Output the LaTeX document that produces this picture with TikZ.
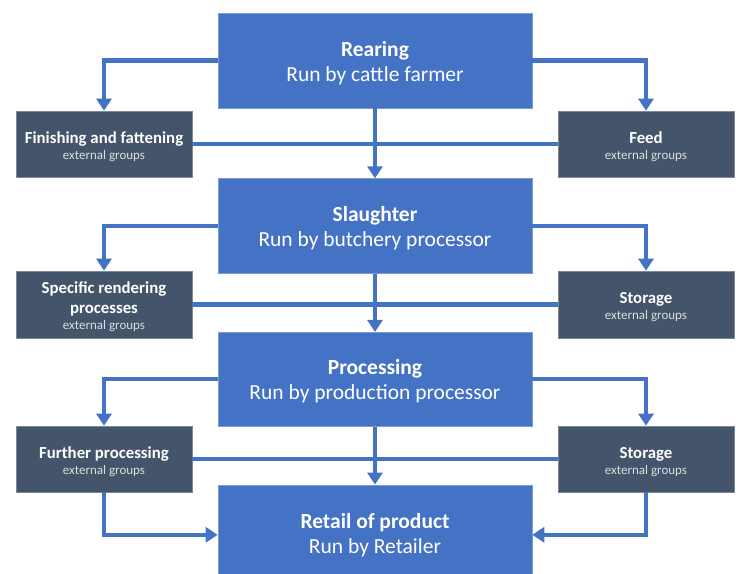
\documentclass[tikz,border=0pt]{standalone}
\usepackage{fontspec}
\setmainfont{Carlito}
\usetikzlibrary{
	arrows.meta,
	positioning
}
\definecolor{stageblue}{HTML}{4472C4}
\definecolor{groupgrey}{HTML}{44546A}

\newcommand{\stagelabel}[2]{\rule{0pt}{19.5pt}\textbf{#1}\\#2}
\newcommand{\grouplabel}[1]{\rule{0pt}{17pt}#1\\[-3pt]{\fontsize{13}{16}\selectfont\mdseries\color{white!80!groupgrey}external groups}}

\begin{document}
\begin{tikzpicture}[x=1pt, y=1pt,
		stage/.style={fill=stageblue, draw=stageblue!70!white, line width=.6pt, text=white, align=center,
			minimum width=314pt, minimum height=95pt, inner sep=0pt, font=\fontsize{21.5}{25}\selectfont},
		group/.style={fill=groupgrey, draw=groupgrey!70!white, line width=.6pt, text=white, align=center,
			minimum width=176pt, minimum height=66pt, inner sep=0pt, font=\fontsize{16.8}{19}\selectfont\bfseries},
		link/.style={stageblue, line width=4.5pt},
		flow/.style={link, -{Triangle[width=15pt, length=12pt]}}]

		\useasboundingbox (0,0) rectangle (739,-573);

		% main chain
		\node[stage] (rear) at (375,-60.5) {\stagelabel{Rearing}{Run by cattle farmer}};
		\node[stage, below=70pt of rear] (slaught) {\stagelabel{Slaughter}{Run by butchery processor}};
		\node[stage, below=58pt of slaught, minimum height=94pt] (proc) {\stagelabel{Processing}{Run by production processor}};
		\node[stage, below=58pt of proc, minimum height=96pt] (retail) {\stagelabel{Retail of product}{Run by Retailer}};

		% external groups
		\node[group] (finish) at (104,-144) {\grouplabel{Finishing and fattening}};
		\node[group] (feed) at (646,-144) {\grouplabel{Feed}};
		\node[group, minimum height=67pt] (render) at (104,-304.5) {\grouplabel{Specific rendering\\[1pt]processes}};
		\node[group, minimum height=67pt] (store) at (646,-304.5) {\grouplabel{Storage}};
		\node[group] (further) at (104,-459) {\grouplabel{Further processing}};
		\node[group] (storeb) at (646,-459) {\grouplabel{Storage}};

		\foreach \l/\r in {finish/feed, render/store, further/storeb}
			\draw[link] (\l.east) -- (\r.west);

		\draw[flow] (rear.south) -- (slaught.north);
		\draw[flow] (slaught.south) -- (proc.north);
		\draw[flow] (proc.south) -- (retail.north);

		\draw[flow] (rear.west) -| (finish.north);
		\draw[flow] (rear.east) -| (feed.north);
		\draw[flow] (slaught.west) -| (render.north);
		\draw[flow] (slaught.east) -| (store.north);
		\draw[flow] (proc.west) -| (further.north);
		\draw[flow] (proc.east) -| (storeb.north);

		\draw[flow] (further.south) |- ([yshift=-2pt]retail.west);
		\draw[flow] (storeb.south) |- ([yshift=-2pt]retail.east);

	\end{tikzpicture}
\end{document}
